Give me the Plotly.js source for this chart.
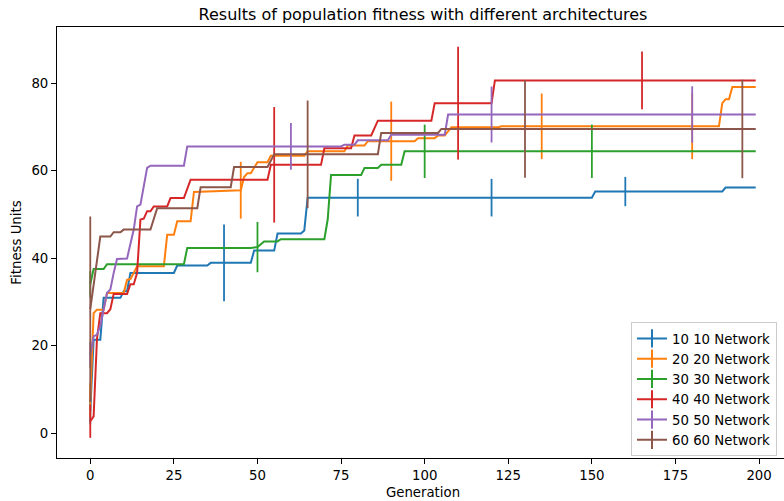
<!DOCTYPE html>
<html>
<head>
<meta charset="utf-8">
<script src="https://cdn.plot.ly/plotly-3.0.1.min.js"></script>
<style>
  html, body { margin: 0; padding: 0; overflow: hidden; background: #fff; }
  #chart { width: 790px; height: 501px; }
</style>
</head>
<body>
<div id="chart"></div>
<script>
// Mean best fitness per generation for each architecture (change points).
const names = ["10 10 Network", "20 20 Network", "30 30 Network",
               "40 40 Network", "50 50 Network", "60 60 Network"];
const colors = ["#1f77b4", "#ff7f0e", "#2ca02c", "#d62728", "#9467bd", "#8c564b"];

const net10Gen = [0, 1, 3, 4, 9, 10, 11, 12, 25, 26, 35, 36, 48, 49, 55, 56, 63, 64, 65, 150, 151, 189, 190, 199];
const net10Fit = [5.0, 21.3, 21.3, 30.9, 30.9, 32.4, 32.4, 36.6, 36.6, 38.3, 38.3, 38.9, 38.9, 41.7, 41.7, 45.6, 45.6, 46.3, 53.8, 53.8, 55.2, 55.2, 56.1, 56.1];

const net20Gen = [0, 1, 2, 4, 5, 10, 11, 12, 13, 14, 22, 23, 25, 26, 30, 31, 45, 46, 47, 48, 50, 53, 54, 64, 65, 76, 77, 82, 83, 97, 98, 103, 104, 106, 108, 122, 123, 188, 189, 190, 191, 192, 199];
const net20Fit = [7.5, 27.4, 28.2, 28.2, 32.0, 32.0, 35.0, 35.2, 36.6, 38.1, 38.1, 45.3, 45.3, 48.4, 48.4, 55.1, 55.5, 58.5, 59.4, 59.4, 61.9, 61.9, 63.4, 63.4, 64.4, 64.4, 65.7, 65.7, 66.7, 66.7, 67.4, 67.4, 68.0, 68.0, 69.9, 69.9, 70.1, 70.1, 75.4, 76.3, 76.3, 79.1, 79.1];

const net30Gen = [0, 1, 4, 5, 28, 29, 48, 50, 52, 56, 57, 70, 71, 72, 81, 82, 86, 87, 93, 94, 199];
const net30Fit = [34.0, 37.5, 37.5, 38.6, 38.6, 42.3, 42.3, 42.5, 43.8, 43.8, 44.3, 44.3, 48.8, 59.0, 59.0, 60.6, 60.6, 61.3, 61.3, 64.4, 64.4];

const net40Gen = [0, 1, 2, 3, 5, 6, 7, 11, 12, 13, 14, 15, 16, 17, 18, 19, 23, 24, 28, 30, 53, 54, 69, 70, 78, 79, 84, 86, 102, 103, 120, 121, 199];
const net40Fit = [2.7, 3.8, 21.5, 27.4, 27.4, 28.3, 31.8, 31.8, 34.0, 34.0, 36.6, 48.8, 49.0, 50.7, 50.7, 51.8, 51.8, 53.7, 53.7, 57.9, 57.9, 61.3, 61.3, 65.1, 65.1, 68.0, 68.0, 71.4, 71.4, 75.4, 75.4, 80.6, 80.6];

const net50Gen = [0, 1, 2, 3, 5, 6, 7, 8, 11, 13, 14, 15, 17, 18, 28, 29, 75, 76, 79, 80, 89, 90, 106, 107, 199];
const net50Fit = [17.9, 22.1, 22.5, 24.5, 32.0, 32.8, 36.6, 39.8, 39.9, 46.5, 51.8, 52.2, 60.6, 61.1, 61.1, 65.5, 65.5, 65.9, 65.9, 66.9, 66.9, 68.2, 68.2, 72.8, 72.8];

const net60Gen = [0, 3, 6, 7, 9, 10, 18, 20, 32, 33, 42, 43, 53, 55, 86, 87, 104, 105, 199];
const net60Fit = [28.3, 44.9, 44.9, 45.9, 45.9, 46.5, 46.5, 51.4, 51.4, 56.2, 56.2, 60.8, 60.8, 63.7, 63.7, 68.6, 68.6, 69.5, 69.5];

// Standard deviation shown every N generations.
const net10ErrGen = [0, 40, 80, 120, 160];
const net10ErrFit = [5.0, 38.9, 53.8, 53.8, 55.2];
const net10ErrSd  = [3.0, 8.75, 4.3, 4.3, 3.35];

const net20ErrGen = [0, 45, 90, 135, 180];
const net20ErrFit = [7.5, 55.5, 66.7, 70.1, 70.1];
const net20ErrSd  = [4.0, 6.5, 9.05, 7.5, 7.5];

const net30ErrGen = [0, 50, 100, 150];
const net30ErrFit = [34.0, 42.5, 64.4, 64.4];
const net30ErrSd  = [3.0, 5.75, 6.1, 6.1];

const net40ErrGen = [0, 55, 110, 165];
const net40ErrFit = [2.7, 61.3, 75.4, 80.6];
const net40ErrSd  = [3.8, 13.2, 12.9, 6.6];

const net50ErrGen = [0, 60, 120, 180];
const net50ErrFit = [17.9, 65.5, 72.8, 72.8];
const net50ErrSd  = [3.0, 5.35, 6.4, 6.45];

const net60ErrGen = [0, 65, 130, 195];
const net60ErrFit = [28.3, 63.7, 69.5, 69.5];
const net60ErrSd  = [21.2, 12.3, 11.15, 11.25];

const xTicks = [0, 25, 50, 75, 100, 125, 150, 175, 200];
const yTicks = [0, 20, 40, 60, 80];

const series = [
  [net10Gen, net10Fit, net10ErrGen, net10ErrFit, net10ErrSd],
  [net20Gen, net20Fit, net20ErrGen, net20ErrFit, net20ErrSd],
  [net30Gen, net30Fit, net30ErrGen, net30ErrFit, net30ErrSd],
  [net40Gen, net40Fit, net40ErrGen, net40ErrFit, net40ErrSd],
  [net50Gen, net50Fit, net50ErrGen, net50ErrFit, net50ErrSd],
  [net60Gen, net60Fit, net60ErrGen, net60ErrFit, net60ErrSd]
];

const traces = [];
series.forEach(([g, f, eg, ef, es], i) => {
  traces.push({
    type: "scatter", mode: "lines", x: g, y: f,
    line: { color: colors[i], width: 2 },
    showlegend: false, hoverinfo: "skip"
  });
  traces.push({
    type: "scatter", mode: "markers", x: eg, y: ef,
    marker: { size: 1, opacity: 0, color: colors[i] },
    error_y: { type: "data", array: es, visible: true, color: colors[i], thickness: 1.8, width: 0 },
    showlegend: false, hoverinfo: "skip"
  });
});
// Legend entries: line with a vertical bar, as for error-bar series.
names.forEach((n, i) => {
  traces.push({
    type: "scatter", mode: "lines+markers", x: [null], y: [null], name: n,
    line: { color: colors[i], width: 2 },
    marker: { symbol: "line-ns", size: 13, color: colors[i], line: { color: colors[i], width: 2 } }
  });
});

const axisCommon = {
  showline: true, mirror: true, linecolor: "#000", linewidth: 1,
  showgrid: false, zeroline: false,
  ticks: "outside", ticklen: 5, tickwidth: 1, tickcolor: "#000",
  tickfont: { family: "DejaVu Sans", size: 13.3, color: "#000" }
};

const layout = {
  width: 790, height: 501,
  margin: { l: 57, r: 1, t: 27, b: 43 },
  paper_bgcolor: "#fff", plot_bgcolor: "#fff",
  font: { family: "DejaVu Sans", size: 13.3, color: "#000" },
  title: {
    text: "Results of population fitness with different architectures",
    font: { family: "DejaVu Sans", size: 16, color: "#000" },
    x: 0.5, xref: "paper", xanchor: "center",
    y: 1 - 14 / 501, yref: "container", yanchor: "middle"
  },
  xaxis: Object.assign({}, axisCommon, {
    range: [-9.95, 208.95], tickvals: xTicks, ticktext: xTicks.map(String),
    title: { text: "Generation", font: { family: "DejaVu Sans", size: 13.3, color: "#000" }, standoff: 5 }
  }),
  yaxis: Object.assign({}, axisCommon, {
    range: [-5.7, 92.8], tickvals: yTicks, ticktext: yTicks.map(String),
    title: { text: "Fitness Units", font: { family: "DejaVu Sans", size: 13.3, color: "#000" }, standoff: 6 }
  }),
  legend: {
    x: 0.9836, xanchor: "right", y: 0.315, yanchor: "top",
    bgcolor: "rgba(255,255,255,0.8)", bordercolor: "#cccccc", borderwidth: 1,
    font: { family: "DejaVu Sans", size: 13.3, color: "#000" }
  },
  showlegend: true
};

Plotly.newPlot("chart", traces, layout, { staticPlot: true, displayModeBar: false });
</script>
</body>
</html>
